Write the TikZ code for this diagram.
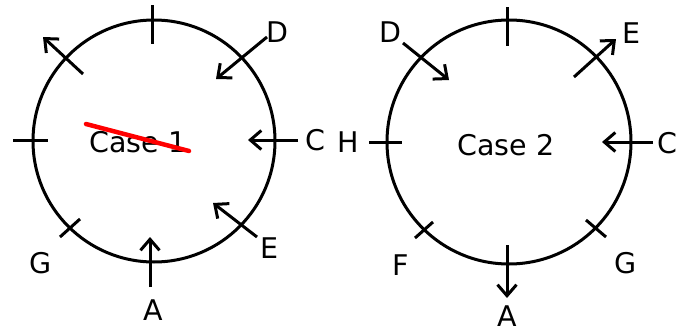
\documentclass[tikz,border=0pt]{standalone}
\usepackage{fontspec}
\setmainfont{DejaVu Sans}
\usetikzlibrary{arrows.meta}
\begin{document}
\begin{tikzpicture}[x=1pt,y=-1pt,
  line width=3pt,
  ring/.style={draw,line width=3pt},
  tick/.style={line width=3pt},
  arr/.style={line width=3pt,-{Straight Barb[length=11pt,width=19pt]}},
  lbl/.style={font=\fontsize{28.5}{28.5}\selectfont,inner sep=0pt},
  strike/.style={red,line width=4.5pt,line cap=round}]
\useasboundingbox (0,0) rectangle (678,332);
% ---------- Case 1 ----------
\node[circle,ring,minimum size=242pt,inner sep=0pt] (c1) at (154,141) {};
\node[lbl] (t1) at (138,142) {Case 1};
\coordinate (c1ts) at (152,5);   \coordinate (c1te) at (152,44);
\draw[tick] (c1ts) -- (c1te);
\coordinate (c1ls) at (13,140);  \coordinate (c1le) at (48,140);
\draw[tick] (c1ls) -- (c1le);
\coordinate (c1gs) at (60,237);  \coordinate (c1ge) at (80,219);
\draw[tick] (c1gs) -- (c1ge);
\coordinate (c1nws) at (83,74);  \coordinate (c1nwe) at (43,37);
\draw[arr] (c1nws) -- (c1nwe);
\coordinate (c1ds) at (267,37);  \coordinate (c1de) at (216,79);
\draw[arr] (c1ds) -- (c1de);
\coordinate (c1cs) at (298,140); \coordinate (c1ce) at (248,140);
\draw[arr] (c1cs) -- (c1ce);
\coordinate (c1es) at (257,237); \coordinate (c1ee) at (213,203);
\draw[arr] (c1es) -- (c1ee);
\coordinate (c1as) at (150,287); \coordinate (c1ae) at (150,237);
\draw[arr] (c1as) -- (c1ae);
\node[lbl] (c1D) at (277,32) {D};
\node[lbl] (c1C) at (315,140) {C};
\node[lbl] (c1E) at (270,248) {E};
\node[lbl] (c1A) at (153,310) {A};
\node[lbl] (c1G) at (41,263) {G};
\coordinate (rs) at (86,124); \coordinate (re) at (189,151);
\draw[strike] (rs) -- (re);
% ---------- Case 2 ----------
\node[circle,ring,minimum size=244pt,inner sep=0pt] (c2) at (509,142) {};
\node[lbl] (t2) at (506,145) {Case 2};
\coordinate (c2ts) at (507,7);   \coordinate (c2te) at (507,46);
\draw[tick] (c2ts) -- (c2te);
\coordinate (c2hs) at (369,142); \coordinate (c2he) at (402,142);
\draw[tick] (c2hs) -- (c2he);
\coordinate (c2gs) at (586,220); \coordinate (c2ge) at (606,237);
\draw[tick] (c2gs) -- (c2ge);
\coordinate (c2fs) at (415,238); \coordinate (c2fe) at (433,222);
\draw[tick] (c2fs) -- (c2fe);
\coordinate (c2bs) at (507,245); \coordinate (c2be) at (507,298);
\draw[arr] (c2bs) -- (c2be);
\coordinate (c2ds) at (403,43);  \coordinate (c2de) at (449,80);
\draw[arr] (c2ds) -- (c2de);
\coordinate (c2es) at (574,77);  \coordinate (c2ee) at (616,39);
\draw[arr] (c2es) -- (c2ee);
\coordinate (c2cs) at (653,142); \coordinate (c2ce) at (602,142);
\draw[arr] (c2cs) -- (c2ce);
\node[lbl] (c2H) at (348,142) {H};
\node[lbl] (c2D) at (390,32) {D};
\node[lbl] (c2E) at (631,33) {E};
\node[lbl] (c2C) at (667,143) {C};
\node[lbl] (c2G) at (626,263) {G};
\node[lbl] (c2F) at (401,265) {F};
\node[lbl] (c2A) at (507,316) {A};
\end{tikzpicture}
\end{document}
